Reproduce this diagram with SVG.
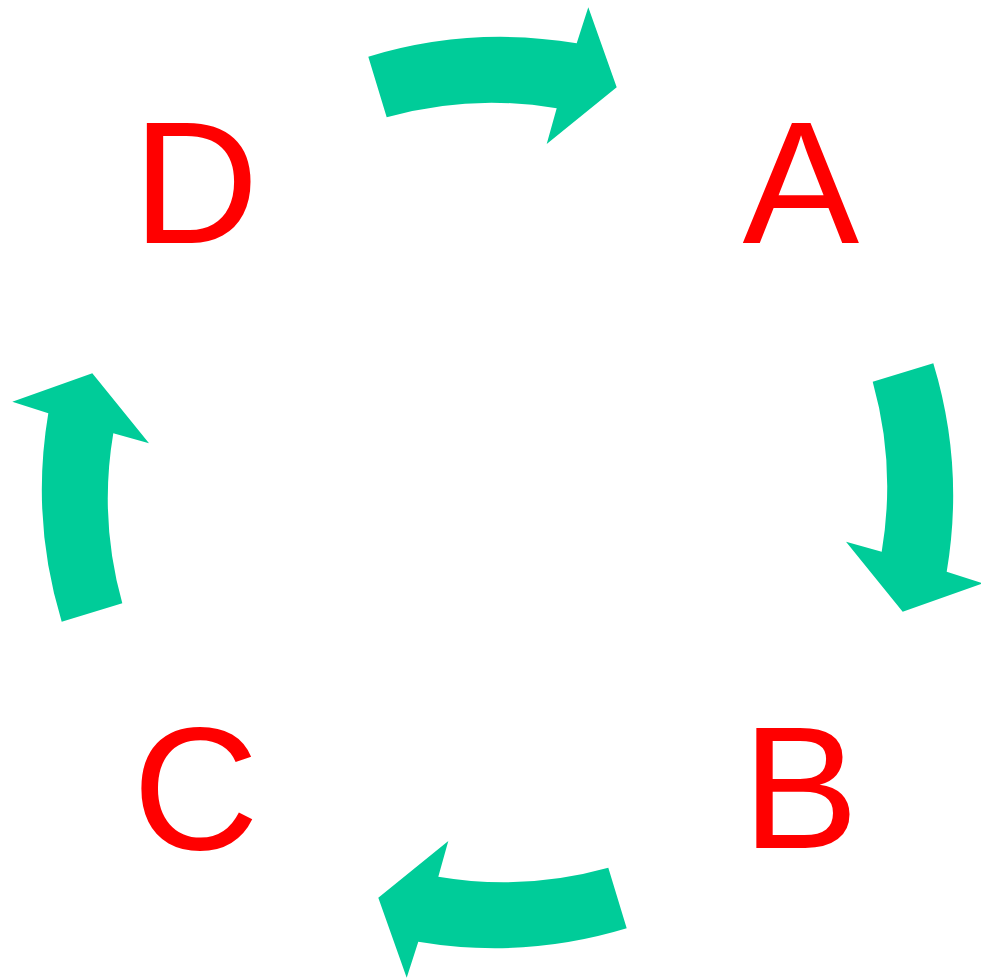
<svg xmlns="http://www.w3.org/2000/svg" width="981" height="979" viewBox="0 0 981 979">
  <style>
    .lbl { font-family: "Liberation Sans", Arial, sans-serif; font-size: 175px; fill: #FF0000; }
    .arrow { fill: #00CC99; stroke: none; }
  </style>
  <defs>
    <path id="curvedArrow" class="arrow" d="M 368.3,56.7 A 455.5 455.5 0 0 1 576.7,43.3 L 588.3,7.3 L 616.7,87.3 L 546.7,144 L 556.7,108.3 A 390 390 0 0 0 386.7,117.3 Z"/>
  </defs>
  <rect width="981" height="979" fill="#FFFFFF"/>
  <g id="connectors">
    <use id="arrow-DA" href="#curvedArrow"/>
    <use id="arrow-AB" href="#curvedArrow" transform="rotate(90 497.5 492.5)"/>
    <use id="arrow-BC" href="#curvedArrow" transform="rotate(180 497.5 492.5)"/>
    <use id="arrow-CD" href="#curvedArrow" transform="rotate(270 497.5 492.5)"/>
  </g>
  <g id="node-A"><text class="lbl" x="742.5" y="242.7">A</text></g>
  <g id="node-B"><text class="lbl" x="742" y="848.3">B</text></g>
  <g id="node-C"><text class="lbl" x="132.5" y="849">C</text></g>
  <g id="node-D"><text class="lbl" x="132.5" y="242.7">D</text></g>
</svg>
